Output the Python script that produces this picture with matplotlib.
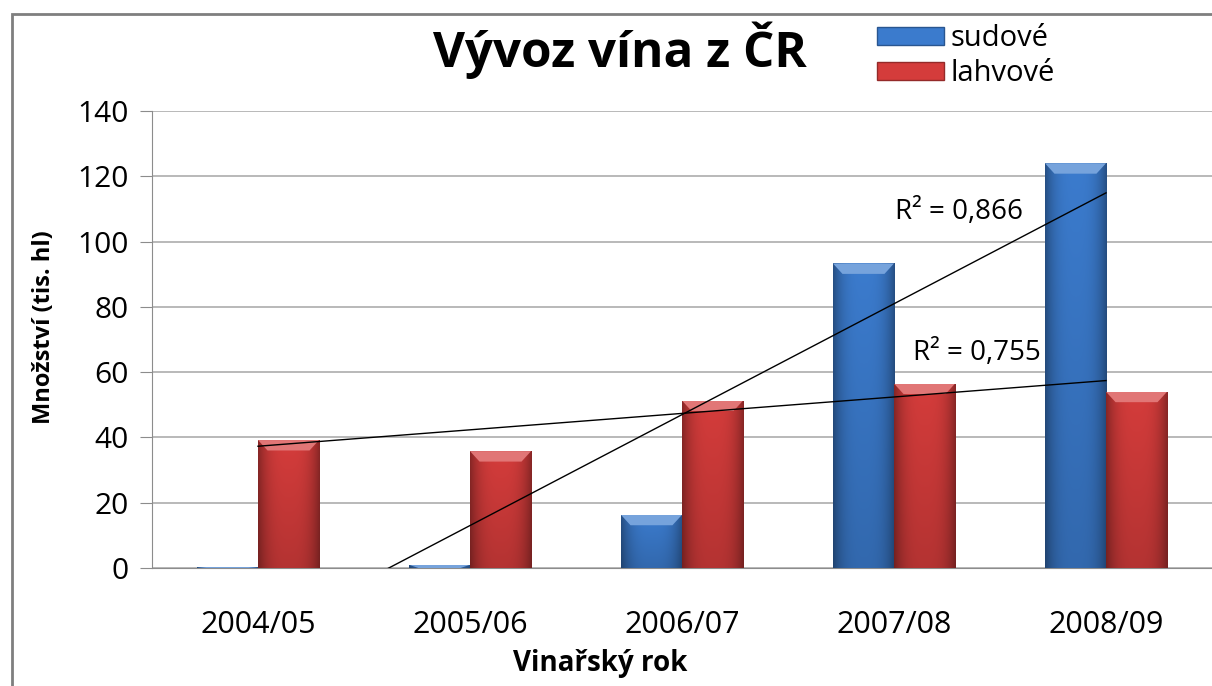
import numpy as np
import matplotlib
matplotlib.use("Agg")
import matplotlib.pyplot as plt
from matplotlib.patches import Rectangle, Polygon
from matplotlib.colors import to_rgb

plt.rcParams['font.family'] = ['Open Sans', 'DejaVu Sans']

# data
years = ['2004/05', '2005/06', '2006/07', '2007/08', '2008/09']
sudove = [0.3, 1.0, 16.3, 93.3, 124.0]
lahvove = [39.2, 35.8, 51.3, 56.5, 54.0]
r2_labels = ['R² = 0,866', 'R² = 0,755']

blue = '#3b7bcd'
red = '#d43c3b'

W, H = 1212, 686
fig = plt.figure(figsize=(W/100, H/100), dpi=100)
ax = fig.add_axes([152/W, 1 - 568/H, 1 - 152/W, (568 - 111)/H])

x = np.arange(len(years))
w = 0.288


def shade(c, f):
    c = np.array(to_rgb(c))
    if f < 0:
        return tuple(c * (1 + f))
    return tuple(c + (1 - c) * f)


def fancy_bars(xs, vals, color):
    for xc, h in zip(xs, vals):
        x0, x1 = xc - w/2, xc + w/2
        rect = Rectangle((x0, 0), w, h, facecolor=color, edgecolor=shade(color, -0.3),
                         linewidth=0.6, zorder=3)
        ax.add_patch(rect)
        # horizontal gradient, darker at the edges
        t = np.linspace(-1, 1, 60)
        prof = 1 - 0.35 * np.abs(t) ** 3
        base = np.array(to_rgb(color))
        img = np.clip(base[None, None, :] * prof[None, :, None], 0, 1)
        vert = np.linspace(0.85, 1.0, 40)[:, None, None]
        img = np.clip(img * vert, 0, 1)
        im = ax.imshow(img, extent=(x0, x1, 0, h), origin='lower', aspect='auto',
                       zorder=3.1, interpolation='bilinear')
        im.set_clip_path(rect)
        # bevel on the top
        bv = min(3.2, h)
        d = 0.045
        top = Polygon([(x0, h), (x1, h), (x1 - d, h - bv), (x0 + d, h - bv)],
                      closed=True, facecolor=shade(color, 0.3), edgecolor='none', zorder=3.2)
        ax.add_patch(top)
        top.set_clip_path(rect)


fancy_bars(x - w/2, sudove, blue)
fancy_bars(x + w/2, lahvove, red)

# linear trend lines
for vals in (sudove, lahvove):
    k, q = np.polyfit(x, vals, 1)
    ax.plot(x, k * x + q, color='black', linewidth=1.0, zorder=4)

ax.text(3.61, 109, r2_labels[0], ha='right', va='center', fontsize=20, zorder=5)
ax.text(3.69, 66, r2_labels[1], ha='right', va='center', fontsize=20, zorder=5)

ax.set_xlim(-0.5, 4.5)
ax.set_ylim(0, 140)
ax.set_yticks(range(0, 141, 20))
ax.set_xticks(x)
ax.set_xticklabels(years)
ax.tick_params(axis='y', labelsize=21.5, length=9, color='#8c8c8c', pad=8)
ax.tick_params(axis='x', labelsize=22, length=0, pad=30)
ax.yaxis.grid(True, color='#a6a6a6', linewidth=1.1, zorder=0)
ax.set_axisbelow(True)
for s in ('top', 'right'):
    ax.spines[s].set_visible(False)
ax.spines['left'].set_color('#8c8c8c')
ax.spines['bottom'].set_color('#8c8c8c')

# axis titles
fig.text(44/W, 1 - 327/H, 'Množství (tis. hl)', rotation=90, ha='center', va='center',
         fontsize=17, fontweight='bold')
fig.text(600/W, 1 - 663/H, 'Vinařský rok', ha='center', va='center',
         fontsize=20, fontweight='bold')

fig.text(620/W, 1 - 67/H, 'Vývoz vína z ČR', ha='center', va='baseline',
         fontsize=35.5, fontweight='bold')

# legend
handles = [Rectangle((0, 0), 1, 1, facecolor=blue, edgecolor=shade(blue, -0.3)),
           Rectangle((0, 0), 1, 1, facecolor=red, edgecolor=shade(red, -0.3))]
fig.legend(handles, ['sudové', 'lahvové'], loc='upper left',
           bbox_to_anchor=(851/W, 1 + 2/H), frameon=False, fontsize=21,
           handlelength=2.3, handleheight=0.55, handletextpad=0.2, labelspacing=0.2)

# chart frame
fig.patches.append(Rectangle((12/W, -0.05), 1.0, 1 - 14/H + 0.05,
                             transform=fig.transFigure, fill=False,
                             edgecolor='#7f7f7f', linewidth=2.0))

fig.savefig('out.png', dpi=100)
